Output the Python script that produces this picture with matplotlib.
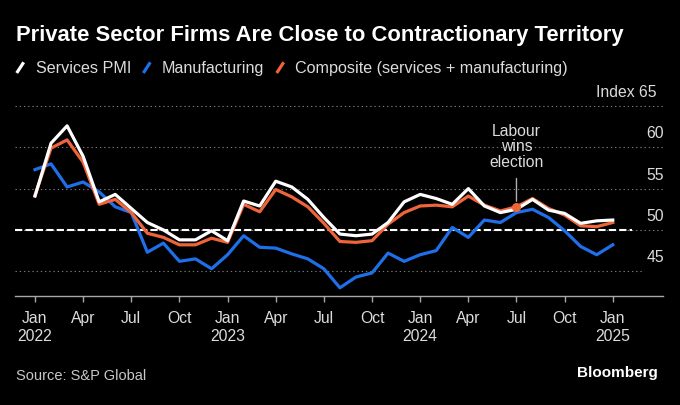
import matplotlib.pyplot as plt
from matplotlib.lines import Line2D
from matplotlib.transforms import blended_transform_factory

plt.rcParams['font.family'] = ['Liberation Sans', 'DejaVu Sans']

# monthly PMI readings, Jan 2022 .. Jan 2025
months = list(range(37))
services = [54.1, 60.5, 62.6, 58.9, 53.4, 54.3, 52.6, 50.9, 50.0, 48.8, 48.8, 49.9,
            48.7, 53.5, 52.9, 55.9, 55.2, 53.7, 51.5, 49.5, 49.3, 49.5, 50.9, 53.4,
            54.3, 53.8, 53.1, 55.0, 52.9, 52.1, 52.5, 53.7, 52.4, 52.0, 50.8, 51.1,
            51.2]
manufacturing = [57.3, 58.0, 55.2, 55.8, 54.6, 52.8, 52.1, 47.3, 48.4, 46.2, 46.5, 45.3,
                 47.0, 49.3, 47.9, 47.8, 47.1, 46.5, 45.3, 43.0, 44.3, 44.8, 47.2, 46.2,
                 47.0, 47.5, 50.3, 49.1, 51.2, 50.9, 52.1, 52.5, 51.5, 49.9, 48.0, 47.0,
                 48.2]
composite = [54.2, 59.9, 60.9, 58.2, 53.1, 53.7, 52.1, 49.6, 49.1, 48.2, 48.2, 49.0,
             48.5, 53.1, 52.2, 54.9, 54.0, 52.8, 50.8, 48.6, 48.5, 48.7, 50.7, 52.1,
             52.9, 53.0, 52.8, 54.1, 53.0, 52.3, 52.8, 53.8, 52.6, 51.8, 50.5, 50.4,
             50.9]

tick_pos = list(range(0, 37, 3))
tick_labels = ['Jan\n2022', 'Apr', 'Jul', 'Oct', 'Jan\n2023', 'Apr', 'Jul', 'Oct',
               'Jan\n2024', 'Apr', 'Jul', 'Oct', 'Jan\n2025']
y_levels = [45, 50, 55, 60, 65]
event_idx = 30  # Jul 2024

WHITE = '#ffffff'
BLUE = '#1f6fe8'
ORANGE = '#f0643a'
GRID = '#7a7a7a'
TXT = '#dcdcdc'

W, H = 680, 406
fig = plt.figure(figsize=(W / 100, H / 100), dpi=100, facecolor='black')
ax = fig.add_axes([15 / W, 0.2692, 648 / W, 0.4774])
ax.set_facecolor('black')

# grid
for v in y_levels:
    xmax = 0.9676 if v == 45 else 1.0
    ax.axhline(v, xmin=0, xmax=xmax, color=GRID, lw=0.8, ls=(0, (1.2, 2.6)), zorder=1)
ax.axhline(50, xmin=0, xmax=0.952, color=WHITE, lw=1.5, ls=(0, (3.5, 1.5)), zorder=2)

ax.plot(months, manufacturing, color=BLUE, lw=2.3, zorder=3)
ax.plot(months, composite, color=ORANGE, lw=2.3, zorder=4)
ax.plot(months, services, color=WHITE, lw=2.3, zorder=5)
ax.plot([months[event_idx]], [composite[event_idx]], 'o', color=ORANGE, ms=5.5, zorder=6)

ax.annotate('Labour\nwins\nelection', xy=(months[event_idx], composite[event_idx]),
            xytext=(months[event_idx], 57.4), ha='center', va='bottom',
            color=TXT, fontsize=11.3, linespacing=1.05,
            arrowprops=dict(arrowstyle='-', color='#b0b0b0', lw=1, shrinkA=5, shrinkB=4))

ax.set_xlim(-1.246, 39.13)
ax.set_ylim(42.04, 65.5)

for s in ['top', 'left', 'right']:
    ax.spines[s].set_visible(False)
ax.spines['bottom'].set_color('#a8a8a8')
ax.spines['bottom'].set_linewidth(1)

ax.set_xticks(tick_pos)
ax.set_xticklabels(tick_labels, linespacing=1.2)
ax.tick_params(axis='x', colors='#a8a8a8', length=4.5, width=1, pad=6,
               labelcolor=TXT, labelsize=11.3)
ax.set_yticks([])

# right-hand value labels sit just above their gridlines
trans = blended_transform_factory(ax.transAxes, ax.transData)
for v in y_levels[:-1]:
    ax.text(1.0015, v + 1.2, str(v), transform=trans, ha='right', va='baseline',
            color=TXT, fontsize=11.3)
ax.text(0.9907, 66.18, 'Index 65', transform=trans, ha='right', va='baseline',
        color=TXT, fontsize=11.3)

# title and legend
fig.text(16 / W, 1 - 40.7 / H, 'Private Sector Firms Are Close to Contractionary Territory',
         color=WHITE, fontsize=15.85, fontweight='bold', va='baseline')

legend_items = [('Services PMI', WHITE, 16.7, 36),
                ('Manufacturing', BLUE, 143.3, 162),
                ('Composite (services + manufacturing)', ORANGE, 276.7, 295)]
for label, col, lx, tx in legend_items:
    fig.add_artist(Line2D([lx / W, (lx + 7) / W], [1 - 74 / H, 1 - 63.3 / H],
                          transform=fig.transFigure, color=col, lw=2.3,
                          solid_capstyle='butt'))
    fig.text(tx / W, 1 - 73.3 / H, label, color=TXT, fontsize=11.6, va='baseline')

fig.text(16 / W, 1 - 380 / H, 'Source: S&P Global', color='#c8c8c8', fontsize=10.5,
         va='baseline')
fig.text(658 / W, 1 - 377.3 / H, 'Bloomberg', color=WHITE, fontsize=11,
         fontweight='bold', ha='right', va='baseline')

fig.savefig('out.png', dpi=100, facecolor='black')
